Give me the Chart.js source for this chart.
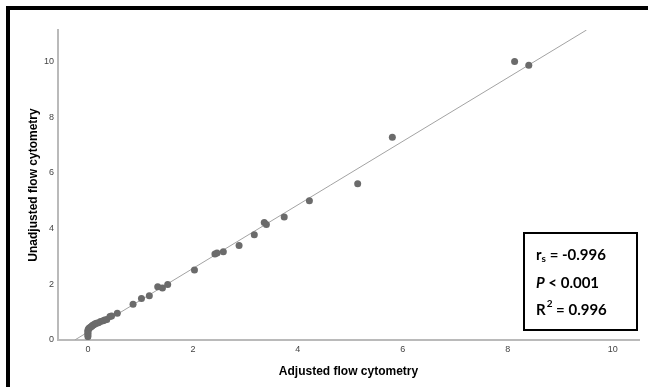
<!DOCTYPE html>
<html>
<head>
<meta charset="utf-8">
<script src="https://cdn.jsdelivr.net/npm/chart.js@4"></script>
<style>
html,body{margin:0;padding:0;background:#fff;}
#wrap{width:648px;height:387px;position:relative;}
</style>
</head>
<body>
<div id="wrap"><canvas id="c" width="648" height="387"></canvas></div>
<script>
// Data
const adjusted = [0.00,0.00,0.00,0.00,0.00,0.01,0.02,0.04,0.06,0.08,0.10,0.13,0.16,0.20,0.24,0.29,0.32,0.36,0.42,0.45,0.56,
  0.86,1.02,1.17,1.33,1.42,1.52,2.03,2.42,2.46,2.58,2.88,3.17,3.36,3.40,3.74,4.22,5.14,5.80,8.13,8.40];
const unadjusted = [0.12,0.18,0.24,0.30,0.35,0.39,0.42,0.45,0.48,0.51,0.54,0.57,0.60,0.62,0.66,0.69,0.72,0.74,0.84,0.86,0.96,
  1.28,1.49,1.59,1.91,1.87,1.99,2.51,3.09,3.12,3.17,3.39,3.78,4.22,4.15,4.42,5.00,5.61,7.28,10.00,9.86];
const fitX = [-0.25, 9.50];
const fitY = [0.00, 11.13];
const xTicks = [0,2,4,6,8,10];
const yTicks = [0,2,4,6,8,10];

const points = adjusted.map((x,i)=>({x:x, y:unadjusted[i]}));
const fit = fitX.map((x,i)=>({x:x, y:fitY[i]}));

const framePlugin = {
  id:'frame',
  afterDraw(chart){
    const ctx = chart.ctx;
    ctx.save();
    ctx.fillStyle = '#000';
    ctx.fillRect(6,6,642,4);
    ctx.fillRect(6,6,4,381);
    // stats box
    ctx.lineWidth = 2;
    ctx.strokeStyle = '#000';
    ctx.strokeRect(524,233,113,97);
    ctx.fillStyle = '#000';
    ctx.textBaseline = 'middle';
    const f = 'bold 15px Lato, "Open Sans", sans-serif';
    const fi = 'italic bold 15px Lato, "Open Sans", sans-serif';
    const fs = 'bold 10px Lato, "Open Sans", sans-serif';
    let x = 536;
    // line 1: r_s
    ctx.font = f; ctx.fillText('r', x, 255);
    let w = ctx.measureText('r').width;
    ctx.font = fs; ctx.fillText('s', x+w, 259);
    let w2 = ctx.measureText('s').width;
    ctx.font = f; ctx.fillText(' = -0.996', x+w+w2, 255);
    // line 2
    ctx.font = fi; ctx.fillText('P', x, 283);
    w = ctx.measureText('P').width;
    ctx.font = f; ctx.fillText(' < 0.001', x+w, 283);
    // line 3
    ctx.font = f; ctx.fillText('R', x, 310);
    w = ctx.measureText('R').width;
    ctx.font = fs; ctx.fillText('2', x+w+1, 304);
    w2 = ctx.measureText('2').width;
    ctx.font = f; ctx.fillText(' = 0.996', x+w+w2+1, 310);
    ctx.restore();
  }
};

new Chart(document.getElementById('c'), {
  type:'scatter',
  data:{
    datasets:[
      {type:'line', data:fit, borderColor:'#a3a3a3', borderWidth:1, pointRadius:0, fill:false, order:2},
      {data:points, backgroundColor:'#6b6b6b', borderColor:'#6b6b6b', pointRadius:3.5, borderWidth:0, order:1}
    ]
  },
  options:{
    responsive:false,
    animation:false,
    devicePixelRatio:1,
    layout:{padding:{left:0, top:30, right:9, bottom:0}},
    plugins:{legend:{display:false}, tooltip:{enabled:false}},
    scales:{
      x:{
        type:'linear', min:-0.57, max:10.5,
        afterBuildTicks(s){ s.ticks = xTicks.map(v=>({value:v})); },
        afterFit(s){ s.height = 47; },
        grid:{display:false, drawTicks:false},
        border:{display:true, color:'#bababa', width:2},
        ticks:{color:'#444', font:{family:'"Liberation Sans", Arial, sans-serif', size:9}, padding:4},
        title:{display:true, text:'Adjusted flow cytometry', color:'#000',
          font:{family:'"Liberation Sans", Arial, sans-serif', size:12, weight:'bold'}, padding:{top:0,bottom:8}}
      },
      y:{
        type:'linear', min:0, max:11.13,
        afterBuildTicks(s){ s.ticks = yTicks.map(v=>({value:v})); },
        afterFit(s){ s.width = 58; },
        grid:{display:false, drawTicks:false},
        border:{display:true, color:'#bababa', width:2},
        ticks:{color:'#444', font:{family:'"Liberation Sans", Arial, sans-serif', size:9}, padding:4},
        title:{display:true, text:'Unadjusted flow cytometry', color:'#000',
          font:{family:'"Liberation Sans", Arial, sans-serif', size:12, weight:'bold'}, padding:{top:26,bottom:0}}
      }
    }
  },
  plugins:[framePlugin]
});
</script>
</body>
</html>
